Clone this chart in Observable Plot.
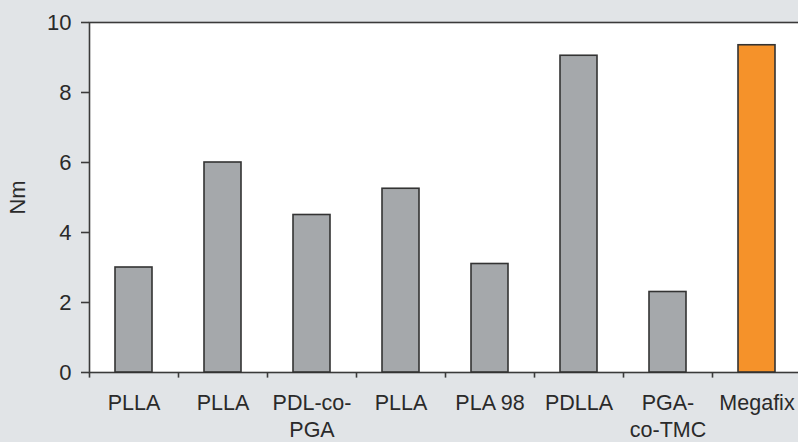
<!DOCTYPE html>
<html>
<head>
<meta charset="utf-8">
<script src="https://cdn.jsdelivr.net/npm/d3@7"></script>
<script src="https://cdn.jsdelivr.net/npm/@observablehq/plot@0.6"></script>
<style>
  html, body { margin: 0; padding: 0; background: #e1e4e7; overflow: hidden; }
  #chart svg { display: block; }
</style>
</head>
<body>
<div id="chart"></div>
<script>
const ids = [0, 1, 2, 3, 4, 5, 6, 7];
const labels = ["PLLA", "PLLA", "PDL-co-\nPGA", "PLLA", "PLA 98", "PDLLA", "PGA-\nco-TMC", "Megafix"];
const values = [3.0, 6.0, 4.5, 5.25, 3.1, 9.05, 2.3, 9.35];
const highlight = [false, false, false, false, false, false, false, true];
const yTicks = [0, 2, 4, 6, 8, 10];

const data = ids.map(i => ({id: i, label: labels[i], value: values[i], hi: highlight[i]}));

const chart = Plot.plot({
  width: 798,
  height: 442,
  marginLeft: 89,
  marginRight: -3,
  marginTop: 22,
  marginBottom: 70,
  style: {background: "#e1e4e7", fontFamily: "Liberation Sans, Arial, sans-serif", fontSize: "21px", color: "#2a2a2a", overflow: "visible"},
  x: {domain: ids, padding: 0, axis: null},
  y: {domain: [0, 10], axis: null},
  marks: [
    Plot.frame({fill: "white", stroke: "#3a3a3a", strokeWidth: 1.6}),
    Plot.barY(data, {
      x: "id", y: "value",
      insetLeft: 26, insetRight: 26,
      fill: d => d.hi ? "#f5922a" : "#a5a8ab",
      stroke: "#333", strokeWidth: 1.6
    }),
    Plot.ruleX(ids, {x: d => d, dx: -44.5, y1: 0, y2: -0.16, stroke: "#3a3a3a", strokeWidth: 1.6}),
    Plot.axisY(yTicks, {
      ticks: yTicks, tickSize: 8, tickPadding: 10, fontSize: 22,
      stroke: "#3a3a3a", strokeWidth: 1.6, fill: "#2a2a2a",
      label: "Nm", labelAnchor: "center", labelArrow: "none", labelOffset: 80
    }),
    Plot.text(data, {
      x: "id", y: 0, text: "label", dy: 18,
      lineAnchor: "top", lineHeight: 1.26, fontSize: 21.5, fill: "#2a2a2a"
    })
  ]
});
document.getElementById("chart").appendChild(chart);
</script>
</body>
</html>
